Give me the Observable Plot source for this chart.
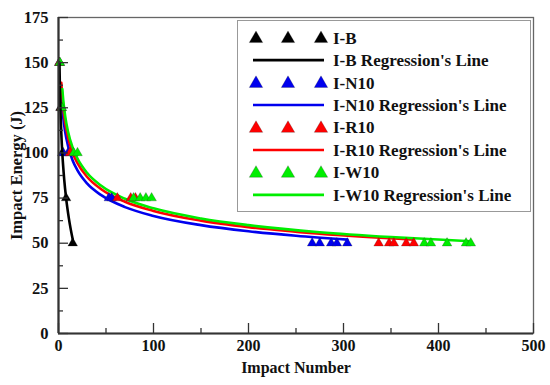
<!DOCTYPE html>
<html>
<head>
<meta charset="utf-8">
<script src="https://cdn.jsdelivr.net/npm/d3@7"></script>
<script src="https://cdn.jsdelivr.net/npm/@observablehq/plot@0.6"></script>
<style>
  html, body { margin: 0; padding: 0; background: #fff; }
  #wrap { position: relative; width: 550px; height: 385px; }
  #wrap svg text { font-family: 'Liberation Serif', 'Times New Roman', serif; }
  #legend { position: absolute; left: 237px; top: 20px; }
</style>
</head>
<body>
<div id="wrap"></div>
<script>
// ---- Series ----
const seriesNames = ["I-B", "I-N10", "I-R10", "I-W10"];
const seriesColors = ["#000000", "#0000ee", "#ff0000", "#00ee00"];

// ---- Measured points (impact number, impact energy J) ----
const ibN = [1, 2, 4, 8, 15];
const ibE = [150, 125, 100, 75, 50];

const in10N = [1, 3, 5, 10, 53, 56, 267, 275, 287, 293, 304];
const in10E = [150, 125, 100, 100, 75, 75, 50, 50, 50, 50, 50];

const ir10N = [1, 3, 12, 62, 76, 81, 337, 348, 353, 366, 374];
const ir10E = [150, 125, 100, 75, 75, 75, 50, 50, 50, 50, 50];

const iw10N = [1.5, 3.5, 16, 20, 79, 86, 92, 98, 385, 392, 409, 429, 434];
const iw10E = [150, 125, 100, 100, 75, 75, 75, 75, 50, 50, 50, 50, 50];

// ---- Regression lines ----
const ibLineN = [1, 1.5, 2, 3, 4, 6, 8, 11, 15];
const ibLineE = [150, 135.4, 125, 110.4, 100, 85.4, 75, 63.5, 52];

const in10LineN = [3, 5, 7, 10, 15, 20, 30, 45, 70, 100, 150, 200, 250, 304];
const in10LineE = [132.6, 119.6, 111.7, 103.9, 95.7, 90.3, 83.1, 76.6, 70.0, 65.1, 60.0, 56.6, 54.1, 52.0];

const ir10LineN = [3, 5, 7, 10, 15, 20, 30, 45, 70, 100, 150, 200, 275, 374];
const ir10LineE = [138.8, 125.1, 116.8, 108.6, 100.0, 94.3, 86.8, 79.9, 73.0, 67.9, 62.5, 58.9, 55.2, 51.9];

const iw10LineN = [4, 5, 7, 10, 15, 20, 30, 45, 70, 100, 150, 200, 275, 350, 434];
const iw10LineE = [135.4, 129.2, 120.5, 111.9, 102.8, 96.9, 89.0, 81.8, 74.6, 69.3, 63.7, 60.0, 56.1, 53.4, 51.1];

// ---- Axis ticks ----
const xTicks = [0, 100, 200, 300, 400, 500];
const xMinor = [50, 150, 250, 350, 450];
const yTicks = [0, 25, 50, 75, 100, 125, 150, 175];
const yMinor = [12.5, 37.5, 62.5, 87.5, 112.5, 137.5, 162.5];

const pointSets = [[ibN, ibE], [in10N, in10E], [ir10N, ir10E], [iw10N, iw10E]];
const lineSets = [[ibLineN, ibLineE], [in10LineN, in10LineE], [ir10LineN, ir10LineE], [iw10LineN, iw10LineE]];

const points = pointSets.flatMap(([ns, es], i) => ns.map((n, j) => ({series: seriesNames[i], n, e: es[j]})));
const lines = lineSets.map(([ns, es], i) => ns.map((n, j) => ({series: seriesNames[i], n, e: es[j]})));

const font = "'Liberation Serif', 'Times New Roman', serif";
const axisColor = "#333";

const lineMark = (i) => Plot.line(lines[i], {x: "n", y: "e", stroke: seriesColors[i], strokeWidth: 2.6, curve: "monotone-x"});
const textOpts = {fontFamily: font, fontSize: 16, fontWeight: "bold", fill: "#111"};

const chart = Plot.plot({
  width: 550,
  height: 385,
  marginLeft: 58,
  marginRight: 17,
  marginTop: 17,
  marginBottom: 52,
  style: {fontFamily: font, fontSize: "16px", fontWeight: "bold", color: "#111", background: "#fff"},
  x: {domain: [0, 500]},
  y: {domain: [0, 175]},
  marks: [
    Plot.frame({stroke: "#666", strokeWidth: 1.3}),
    lineMark(1), lineMark(2), lineMark(3),
    Plot.dot(points, {x: "n", y: "e", symbol: "triangle", r: 3.6,
      fill: d => seriesColors[seriesNames.indexOf(d.series)], stroke: "#222", strokeWidth: 0.4, strokeOpacity: 0.6}),
    lineMark(0),
    Plot.axisX({ticks: xTicks, tickSize: 0, tickPadding: 6, label: "Impact Number", labelAnchor: "center", labelArrow: "none", labelOffset: 39, ...textOpts}),
    Plot.axisX({ticks: xTicks, tickSize: -10, text: null, label: null, stroke: axisColor, strokeWidth: 1.3}),
    Plot.axisX({ticks: xMinor, tickSize: -5, text: null, label: null, stroke: axisColor, strokeWidth: 1.3}),
    Plot.axisY({ticks: yTicks, tickSize: 0, tickPadding: 10, label: "Impact Energy (J)", labelAnchor: "center", labelArrow: "none", labelOffset: 48, ...textOpts, fontSize: 16.5}),
    Plot.axisY({ticks: yTicks, tickSize: -10, text: null, label: null, stroke: axisColor, strokeWidth: 1.3}),
    Plot.axisY({ticks: yMinor, tickSize: -5, text: null, label: null, stroke: axisColor, strokeWidth: 1.3}),
    Plot.ruleX([0], {stroke: axisColor, strokeWidth: 2.2}),
    Plot.ruleY([0], {stroke: axisColor, strokeWidth: 2.2})
  ]
});

const wrap = document.getElementById("wrap");
wrap.appendChild(chart);

// ---- Legend overlay (built with d3 from the same arrays) ----
const legW = 294, legH = 192, rowH = 22.45, row0 = 17.7;
const leg = d3.select(wrap).append("svg")
  .attr("id", "legend").attr("width", legW).attr("height", legH)
  .style("font-family", font).style("font-weight", "bold").style("font-size", "17px");
leg.append("rect").attr("x", 0.5).attr("y", 0.5).attr("width", legW - 1).attr("height", legH - 1)
  .attr("fill", "#fff").attr("stroke", "#999").attr("stroke-width", 1);
const tri = d3.symbol(d3.symbolTriangle, 78)();
seriesNames.forEach((name, i) => {
  const yP = row0 + rowH * (2 * i);
  const yL = row0 + rowH * (2 * i + 1);
  [19, 51, 84].forEach(cx => {
    leg.append("path").attr("d", tri).attr("transform", `translate(${cx},${yP + 1})`)
      .attr("fill", seriesColors[i]).attr("stroke", "#222").attr("stroke-width", 0.4).attr("stroke-opacity", 0.6);
  });
  leg.append("line").attr("x1", 16).attr("x2", 87).attr("y1", yL).attr("y2", yL)
    .attr("stroke", seriesColors[i]).attr("stroke-width", 2.6);
  leg.append("text").attr("x", 96).attr("y", yP).attr("dy", "0.35em").attr("fill", "#111").text(name);
  leg.append("text").attr("x", 96).attr("y", yL).attr("dy", "0.35em").attr("fill", "#111").text(name + " Regression's Line");
});
</script>
</body>
</html>
